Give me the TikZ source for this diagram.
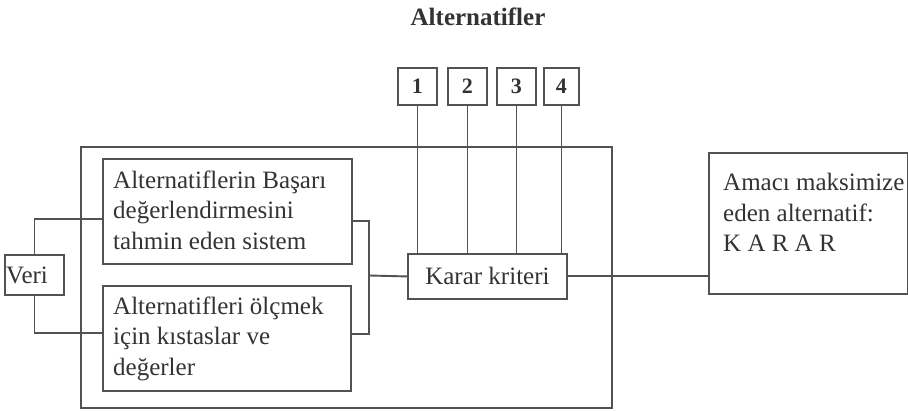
\documentclass[tikz,border=0pt]{standalone}
\usepackage{fontspec}
\setmainfont{Liberation Serif}
\usetikzlibrary{calc}
\begin{document}
\begin{tikzpicture}[x=1pt,y=-1pt]
\tikzset{
  ln/.style={draw=black!68, line width=1.9pt},
  box/.style={ln, inner sep=0pt, anchor=north west},
  txt/.style={text=black!80, font=\fontsize{25}{30.5}\selectfont, inner sep=0pt, align=left},
  num/.style={box, text=black!80, font=\bfseries\fontsize{22}{26}\selectfont, minimum height=37pt}
}
\useasboundingbox (0,0) rectangle (908,411);
% title
\node[text=black!80, font=\bfseries\fontsize{25}{30}\selectfont] (title) at (478,17) {Alternatifler};
% alternative boxes
\node[num, minimum width=39pt] (n1) at (397,67) {1};
\node[num, minimum width=39pt] (n2) at (447,67) {2};
\node[num, minimum width=39pt] (n3) at (496,67) {3};
\node[num, minimum width=35pt] (n4) at (543,67) {4};
% big frame
\node[box, minimum width=531pt, minimum height=261pt] (big) at (80,146) {};
% inner boxes
\node[box, minimum width=249pt, minimum height=105pt] (A) at (102,158) {};
\node[box, minimum width=248pt, minimum height=105pt] (B) at (102,285) {};
\node[box, minimum width=59pt, minimum height=40pt] (veri) at (4,254) {};
\node[box, minimum width=159pt, minimum height=45pt] (karar) at (407,253) {};
\node[box, minimum width=199pt, minimum height=141pt] (res) at (708,152) {};
% texts
\node[txt, anchor=west] (At) at ($(A.west)+(11,-1.5)$) {Alternatiflerin Başarı\\değerlendirmesini\\tahmin eden sistem};
\node[txt, anchor=west] (Bt) at ($(B.west)+(11,0)$) {Alternatifleri ölçmek\\için kıstaslar ve\\değerler};
\node[txt, anchor=west] (vt) at ($(veri.west)+(2,0)$) {Veri};
\node[txt] (kt) at (karar.center) {Karar kriteri};
\node[txt, anchor=west] (rt) at ($(res.west)+(15,-11)$) {Amacı maksimize\\eden alternatif:\\K A R A R};
% connectors
\coordinate (Aa) at ($(A.north west)!0.57!(A.south west)$);
\coordinate (Ba) at ($(B.north west)!0.45!(B.south west)$);
\coordinate (Ar) at ($(A.north east)!0.59!(A.south east)$);
\coordinate (Br) at ($(B.north east)!0.46!(B.south east)$);
\coordinate (j) at (369,275.5);
\draw[ln] (veri.north) |- (Aa);
\draw[ln] (veri.south) |- (Ba);
\draw[ln] (Ar) -- (Ar -| j) -- (Br -| j) -- (Br);
\draw[ln] (j) -- (karar.west);
\foreach \n in {n1,n2,n3,n4} {
  \draw[ln] (\n.south) -- (\n.south |- karar.north);
}
\draw[ln] (karar.east) -- (karar.east -| res.west);
\end{tikzpicture}
\end{document}
